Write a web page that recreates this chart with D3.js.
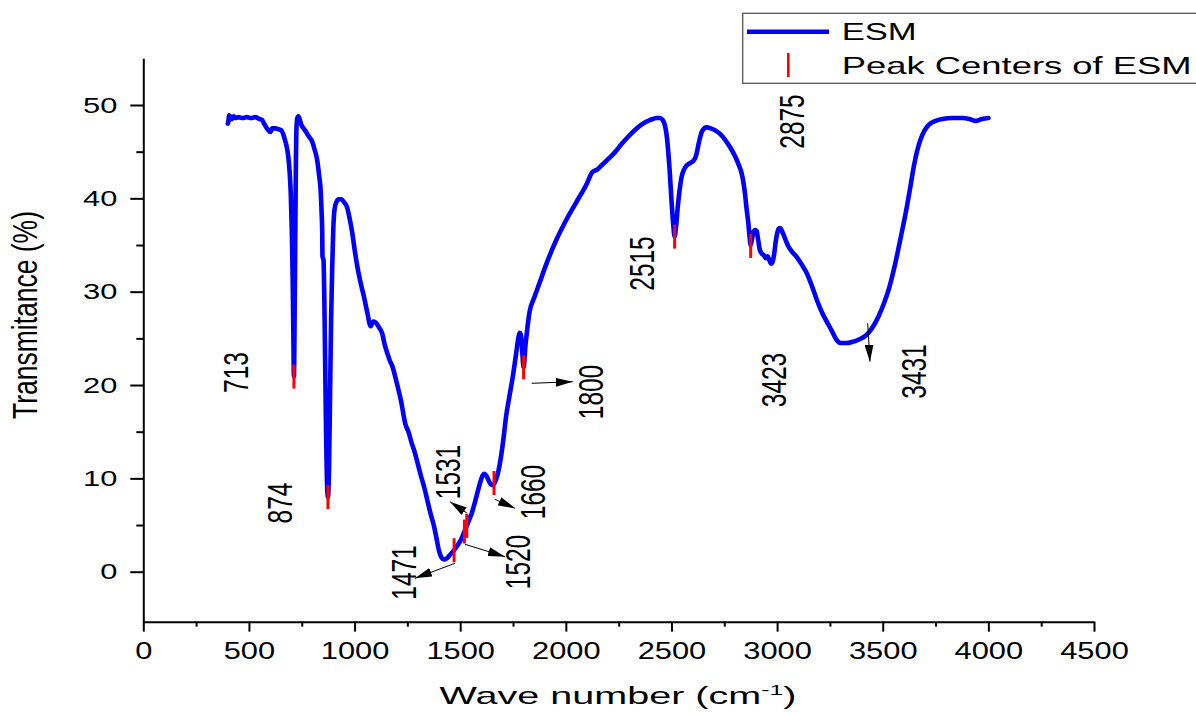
<!DOCTYPE html>
<html>
<head>
<meta charset="utf-8">
<script src="https://cdn.jsdelivr.net/npm/d3@7/dist/d3.min.js"></script>
<style>
  html, body { margin: 0; padding: 0; background: #fff; }
  svg { display: block; }
</style>
</head>
<body>
<script>
// ---------------- DATA ----------------
const waveNumber = [
  400, 403, 406, 410, 414, 420, 428, 436, 450, 470, 490, 510, 530, 550, 562, 572, 582, 592, 601, 610,
  625, 640, 653, 662, 670, 678, 686, 692, 698, 703, 707, 710, 713, 716, 719, 722, 725, 729, 734, 740,
  748, 758, 768, 776, 788, 799, 810, 823, 832, 839, 844, 847, 848, 853, 857, 861, 865, 869, 874, 879,
  884, 889, 894, 899, 905, 914, 925, 937, 950, 965, 977, 989, 1001, 1013, 1028, 1044, 1060, 1076, 1088, 1100,
  1115, 1131, 1143, 1155, 1167, 1179, 1199, 1219, 1242, 1255, 1270, 1282, 1300, 1315, 1329, 1345, 1360, 1377, 1390, 1400,
  1412, 1424, 1440, 1455, 1471, 1487, 1503, 1520, 1531, 1543, 1555, 1567, 1583, 1598, 1606, 1614, 1626, 1638, 1648, 1656,
  1663, 1670, 1681, 1693, 1705, 1717, 1733, 1749, 1765, 1775, 1781, 1787, 1792, 1796, 1800, 1804, 1808, 1815, 1828, 1851,
  1875, 1900, 1950, 2000, 2050, 2100, 2125, 2150, 2168, 2200, 2231, 2263, 2295, 2326, 2358, 2400, 2430, 2445, 2458, 2468,
  2477, 2484, 2492, 2500, 2508, 2515, 2522, 2529, 2535, 2548, 2560, 2571, 2590, 2603, 2612, 2619, 2630, 2643, 2655, 2666,
  2686, 2706, 2730, 2753, 2777, 2801, 2820, 2832, 2842, 2848, 2856, 2864, 2870, 2875, 2881, 2888, 2896, 2903, 2910, 2918,
  2927, 2937, 2946, 2955, 2963, 2972, 2980, 2986, 2993, 3000, 3008, 3016, 3025, 3036, 3050, 3070, 3090, 3117, 3140, 3165,
  3190, 3212, 3235, 3259, 3280, 3300, 3330, 3354, 3390, 3425, 3455, 3481, 3505, 3529, 3553, 3576, 3596, 3615, 3632, 3647,
  3663, 3679, 3699, 3719, 3750, 3782, 3830, 3876, 3910, 3940, 3970, 4000
];
const transmittance = [
  48.0, 48.3, 48.9, 48.4, 48.8, 48.5, 48.8, 48.6, 48.7, 48.6, 48.7, 48.6, 48.7, 48.5, 48.4, 48.0, 47.6, 47.3, 47.1, 47.5,
  47.5, 47.4, 47.3, 46.9, 46.3, 45.6, 44.5, 43.0, 40.5, 36.5, 31.5, 26.0, 20.9, 26.5, 35.0, 43.0, 47.5, 48.6, 48.8, 48.5,
  47.9, 47.5, 47.2, 46.9, 46.5, 46.1, 45.3, 44.1, 42.5, 41.0, 38.5, 36.3, 33.8, 33.4, 29.0, 22.0, 15.0, 10.0, 8.0, 11.0,
  19.0, 27.0, 32.5, 36.5, 38.8, 39.6, 39.9, 39.9, 39.6, 39.0, 37.8, 36.3, 34.4, 32.7, 31.0, 29.5, 27.8, 26.3, 26.8, 26.7,
  26.2, 25.5, 24.3, 23.4, 22.6, 22.0, 20.3, 18.4, 15.7, 15.0, 13.8, 13.0, 11.5, 10.2, 9.1, 7.6, 6.2, 4.8, 3.3, 2.2,
  1.5, 1.3, 1.5, 1.9, 2.3, 2.8, 3.4, 4.3, 4.9, 5.6, 6.3, 7.2, 8.6, 9.8, 10.3, 10.5, 10.2, 9.6, 9.3, 9.3,
  9.5, 9.9, 10.8, 12.3, 14.3, 16.6, 18.8, 20.9, 23.4, 25.0, 25.6, 25.4, 24.2, 22.8, 21.9, 22.6, 24.0, 25.5, 27.8, 29.4,
  30.9, 32.5, 35.3, 37.6, 39.6, 41.6, 42.8, 43.1, 43.5, 44.2, 44.9, 45.8, 46.6, 47.3, 47.9, 48.4, 48.6, 48.6, 48.4, 47.9,
  46.8, 45.2, 42.8, 39.8, 37.3, 35.9, 37.0, 38.9, 40.2, 42.3, 43.1, 43.5, 43.8, 44.0, 44.3, 44.8, 46.0, 47.1, 47.5, 47.6,
  47.5, 47.3, 46.9, 46.3, 45.5, 44.5, 43.5, 42.7, 41.5, 40.5, 38.8, 37.3, 35.8, 35.0, 35.6, 36.4, 36.6, 36.5, 35.6, 34.5,
  34.1, 33.9, 33.6, 33.8, 33.4, 33.0, 33.3, 34.0, 35.3, 36.2, 36.8, 36.8, 36.4, 35.8, 35.0, 34.3, 33.8, 32.9, 32.0, 30.6,
  29.0, 27.8, 26.8, 25.8, 24.9, 24.5, 24.5, 24.6, 24.9, 25.4, 26.3, 27.4, 28.7, 30.3, 32.4, 34.8, 37.0, 39.2, 41.4, 43.4,
  45.1, 46.3, 47.3, 47.9, 48.3, 48.5, 48.6, 48.6, 48.5, 48.3, 48.5, 48.6
];

const peakCenters = [713, 874, 1471, 1520, 1531, 1660, 1800, 2515, 2875];
const peakValues  = [20.9, 8.0, 2.3, 4.3, 4.9, 9.5, 21.9, 35.9, 34.9];

const peakLabels = ["713", "874", "1471", "1531", "1520", "1660", "1800", "2515", "2875", "3423", "3431"];

const xTickValues = [0, 500, 1000, 1500, 2000, 2500, 3000, 3500, 4000, 4500];
const yTickValues = [0, 10, 20, 30, 40, 50];

const seriesName = "ESM";
const peakSeriesName = "Peak Centers of ESM";
const xTitle = "Wave number (cm";
const xTitleSup = "-1";
const yTitle = "Transmitance (%)";

// ---------------- LAYOUT ----------------
const W = 1196, H = 712;
const F = "'Liberation Sans', Arial, Helvetica, sans-serif";

// label centres (pixels) and arrow geometry for the annotations
const labelPos = {
  "713": [235.5, 372.5], "874": [280, 503], "1471": [403.5, 572.5], "1531": [447.5, 472],
  "1520": [517.5, 562], "1660": [532.5, 492], "1800": [590.5, 392], "2515": [641.5, 263.5],
  "2875": [791.5, 121.5], "3423": [773.5, 380], "3431": [913.5, 371.5]
};
const arrows = [
  [455, 563.3, 415, 578.3],
  [467.3, 513.3, 450, 501.7],
  [465, 544.3, 505, 556.7],
  [495, 499.3, 515, 508.3],
  [531.7, 383.3, 572.7, 381.7],
  [867.7, 323.3, 870, 361.7]
];

const yMin = -5.35, yMax = 55;
const pxPerUnit = (571.7 - 105) / 50;
const x = d3.scaleLinear().domain([0, 4500]).range([143.3, 1094]);
const y = d3.scaleLinear().domain([yMin, yMax])
  .range([571.7 - yMin * pxPerUnit, 571.7 - yMax * pxPerUnit]);

const svg = d3.select("body").append("svg")
  .attr("width", W).attr("height", H)
  .style("background", "#fff");

// ---------------- AXES ----------------
const gxMinor = svg.append("g").attr("transform", `translate(0,${y(yMin)})`)
  .call(d3.axisBottom(x).tickValues(d3.range(250, 4500, 500)).tickSize(5).tickFormat("").tickSizeOuter(0));
gxMinor.select(".domain").remove();
gxMinor.selectAll(".tick line").attr("stroke", "#000").attr("stroke-width", 2);

const gx = svg.append("g").attr("transform", `translate(0,${y(yMin)})`)
  .call(d3.axisBottom(x).tickValues(xTickValues).tickFormat(d3.format("d"))
    .tickSize(10).tickPadding(11).tickSizeOuter(0));
gx.select(".domain").attr("stroke", "#000").attr("stroke-width", 2);
gx.selectAll(".tick line").attr("stroke", "#000").attr("stroke-width", 2);
gx.selectAll(".tick text")
  .attr("font-family", F).attr("font-size", 23).attr("fill", "#000")
  .attr("transform", "scale(1.34,1)");

const gyMinor = svg.append("g").attr("transform", `translate(${x(0)},0)`)
  .call(d3.axisLeft(y).tickValues(d3.range(5, 50, 10)).tickSize(7).tickFormat("").tickSizeOuter(0));
gyMinor.select(".domain").remove();
gyMinor.selectAll(".tick line").attr("stroke", "#000").attr("stroke-width", 2);

const ySX = 1.37;
const gy = svg.append("g").attr("transform", `translate(${x(0)},0)`)
  .call(d3.axisLeft(y).tickValues(yTickValues).tickFormat(d3.format("d"))
    .tickSize(13).tickPadding(13).tickSizeOuter(0));
gy.select(".domain").attr("stroke", "#000").attr("stroke-width", 2);
gy.selectAll(".tick line").attr("stroke", "#000").attr("stroke-width", 2);
gy.selectAll(".tick text")
  .attr("font-family", F).attr("font-size", 22.5).attr("fill", "#000")
  .attr("x", -26 / ySX)
  .attr("transform", `scale(${ySX},1)`);

// ---------------- helpers ----------------
function fitH(sel, targetW, px, py) {
  const w = sel.node().getComputedTextLength();
  sel.attr("transform", `translate(${px},${py}) scale(${targetW / w},1)`);
}

// ---------------- TITLES ----------------
const xt = svg.append("text")
  .attr("font-family", F).attr("font-size", 24).attr("fill", "#000")
  .attr("text-anchor", "middle");
xt.append("tspan").text(xTitle);
xt.append("tspan").attr("font-size", 15).attr("dy", -9).text(xTitleSup);
xt.append("tspan").attr("dy", 9).text(")");
fitH(xt, 357, 618, 704);

const yt = svg.append("text")
  .attr("font-family", F).attr("font-size", 26).attr("fill", "#000")
  .attr("text-anchor", "middle").attr("dy", "0.35em")
  .text(yTitle);
{
  const w = yt.node().getComputedTextLength();
  const fs = 26 * 208 / w;
  yt.attr("font-size", fs).attr("transform", `translate(25,315) scale(1.3,1) rotate(-90)`);
}

// ---------------- CURVE ----------------
const pts = waveNumber.map((d, i) => [d, transmittance[i]]);
svg.append("path")
  .datum(pts)
  .attr("fill", "none")
  .attr("stroke", "#0000ff")
  .attr("stroke-width", 4.6)
  .attr("stroke-linejoin", "round")
  .attr("stroke-linecap", "round")
  .attr("d", d3.line().x(d => x(d[0])).y(d => y(d[1])).curve(d3.curveMonotoneX));

// peak centre markers
svg.append("g").selectAll("line")
  .data(peakCenters.map((d, i) => [d, peakValues[i]]))
  .join("line")
  .attr("x1", d => x(d[0])).attr("x2", d => x(d[0]))
  .attr("y1", d => y(d[1]) - 12).attr("y2", d => y(d[1]) + 12)
  .attr("stroke", "#ff0000").attr("stroke-width", 3);

// ---------------- ANNOTATIONS ----------------
const defs = svg.append("defs");
defs.append("marker")
  .attr("id", "arrowhead")
  .attr("markerUnits", "userSpaceOnUse")
  .attr("viewBox", "0 0 17 9")
  .attr("refX", 17).attr("refY", 4.5)
  .attr("markerWidth", 17).attr("markerHeight", 9)
  .attr("orient", "auto")
  .append("path").attr("d", "M0,0 L17,4.5 L0,9 Z").attr("fill", "#000");

svg.append("g").selectAll("line")
  .data(arrows)
  .join("line")
  .attr("x1", d => d[0]).attr("y1", d => d[1])
  .attr("x2", d => d[2]).attr("y2", d => d[3])
  .attr("stroke", "#000").attr("stroke-width", 1)
  .attr("marker-end", "url(#arrowhead)");

svg.append("g").selectAll("text")
  .data(peakLabels)
  .join("text")
  .attr("font-family", F).attr("font-size", 24.5).attr("fill", "#000")
  .attr("text-anchor", "middle").attr("dy", "0.36em")
  .attr("transform", d => `translate(${labelPos[d][0]},${labelPos[d][1]}) scale(1.4,1) rotate(-90)`)
  .text(d => d);

// ---------------- LEGEND ----------------
const lg = svg.append("g");
lg.append("rect")
  .attr("x", 742.7).attr("y", 13.3).attr("width", 480).attr("height", 70)
  .attr("fill", "#fff").attr("stroke", "#555").attr("stroke-width", 1.3);
lg.append("line")
  .attr("x1", 747).attr("x2", 829).attr("y1", 31.7).attr("y2", 31.7)
  .attr("stroke", "#0000ff").attr("stroke-width", 4.6);
lg.append("line")
  .attr("x1", 788.3).attr("x2", 788.3).attr("y1", 53).attr("y2", 77)
  .attr("stroke", "#ff0000").attr("stroke-width", 2.6);
const l1 = lg.append("text").attr("font-family", F).attr("font-size", 24).attr("fill", "#000").text(seriesName);
fitH(l1, 75, 841.7, 40);
const l2 = lg.append("text").attr("font-family", F).attr("font-size", 24).attr("fill", "#000").text(peakSeriesName);
fitH(l2, 350, 841.7, 73.5);
</script>
</body>
</html>
